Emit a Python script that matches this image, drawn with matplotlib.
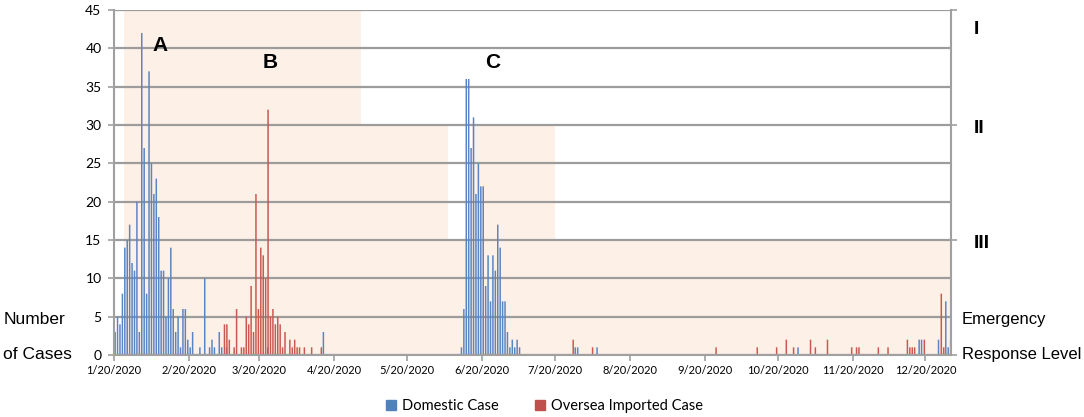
import matplotlib
matplotlib.use('Agg')
import matplotlib.pyplot as plt
from matplotlib.patches import Patch
from matplotlib.transforms import blended_transform_factory

# day offsets counted from 1/20/2020
domestic_days = [0, 1, 2, 3, 4, 5, 6, 7, 8, 9, 10, 11, 12, 13, 14, 15, 16, 17, 18, 19,
                 20, 21, 22, 23, 24, 25, 26, 27, 28, 29, 30, 31, 32, 35, 37, 39, 40, 41,
                 43, 44, 46, 63, 86,
                 143, 144, 145, 146, 147, 148, 149, 150, 151, 152, 153, 154, 155, 156,
                 157, 158, 159, 160, 161, 162, 163, 164, 165, 166, 167,
                 190, 191, 199, 282, 332, 333, 340, 343, 344, 345]
domestic_vals = [3, 5, 4, 8, 14, 15, 17, 12, 11, 20, 3, 42, 27, 8, 37, 25, 21, 23, 18, 11,
                 11, 5, 10, 14, 6, 3, 5, 1, 6, 6, 2, 1, 3, 1, 10, 1, 2, 1,
                 3, 1, 1, 1, 3,
                 1, 6, 36, 36, 27, 31, 21, 25, 22, 22, 9, 13, 7, 13,
                 11, 17, 14, 7, 7, 3, 1, 2, 1, 2, 1,
                 1, 1, 1, 1, 2, 2, 2, 7, 1, 2]

imported_days = [45, 46, 47, 49, 50, 52, 53, 54, 55, 56, 57, 58, 59, 60, 61, 62, 63, 64,
                 65, 66, 67, 68, 69, 70, 72, 73, 74, 75, 76, 78, 81, 85,
                 189, 197, 248, 265, 273, 277, 280, 287, 289, 294, 304, 306, 307,
                 315, 319, 327, 328, 329, 330, 334, 341, 342]
imported_vals = [4, 4, 2, 1, 6, 1, 1, 5, 4, 9, 3, 21, 6, 14, 13, 10, 32, 5,
                 6, 4, 5, 4, 1, 3, 2, 1, 2, 1, 1, 1, 1, 1,
                 2, 1, 1, 1, 1, 2, 1, 2, 1, 2, 1, 1, 1,
                 1, 1, 2, 1, 1, 1, 2, 8, 1]

# emergency response periods: start day, end day, level height
level_start = [4, 102, 138, 148, 182]
level_end = [102, 138, 148, 182, 346]
level_top = [45, 30, 15, 30, 15]

tick_days = [0, 31, 60, 91, 121, 152, 182, 213, 244, 274, 305, 335]
tick_labels = ['1/20/2020', '2/20/2020', '3/20/2020', '4/20/2020', '5/20/2020',
               '6/20/2020', '7/20/2020', '8/20/2020', '9/20/2020', '10/20/2020',
               '11/20/2020', '12/20/2020']

blue = '#4F81BD'
red = '#C0504D'
shade = '#FDF0E6'
gray = '#A0A0A0'

fig = plt.figure(figsize=(10.84, 4.17), dpi=100)
ax = fig.add_axes([0.1052, 0.1487, 0.7721, 0.8273])

widths = [e - s for s, e in zip(level_start, level_end)]
ax.bar(level_start, level_top, width=widths, align='edge', color=shade,
       linewidth=0, zorder=0)

ax.bar([d + 0.45 for d in domestic_days], domestic_vals, width=0.62, color='#5A85C3',
       linewidth=0, zorder=2, snap=False)
ax.bar([d + 0.6 for d in imported_days], imported_vals, width=0.62, color='#CA5850',
       linewidth=0, zorder=2, snap=False)

ax.set_xlim(0, 345.6)
ax.set_ylim(0, 45)
ax.set_yticks(range(0, 46, 5))
ax.set_xticks(tick_days)
ax.set_xticklabels(tick_labels, fontsize=8, family='Lato')
for lab in ax.get_yticklabels():
    lab.set_family('Lato')
ax.tick_params(axis='y', labelsize=10, direction='out', length=4, color=gray,
               width=1.2, pad=5)
ax.tick_params(axis='x', direction='out', length=4, color=gray, width=1.2, pad=3)

ax.set_axisbelow(True)
ax.grid(axis='y', color='#9C9C9C', linewidth=1.6)
for side in ['left', 'bottom']:
    ax.spines[side].set_color(gray)
    ax.spines[side].set_linewidth(1.5)
ax.spines['top'].set_visible(False)
ax.spines['right'].set_visible(False)

ax2 = ax.twinx()
ax2.set_ylim(0, 45)
ax2.set_yticks([0, 15, 30, 45])
ax2.set_yticklabels([])
ax2.tick_params(axis='y', direction='out', length=4, color=gray, width=1.2)
ax2.spines['right'].set_color(gray)
ax2.spines['right'].set_linewidth(1.5)
for side in ['left', 'top', 'bottom']:
    ax2.spines[side].set_visible(False)

# outbreak labels
for letter, xd, yv in [('A', 19, 40.4), ('B', 64.4, 38.2), ('C', 156.4, 38.2)]:
    ax.text(xd, yv, letter, fontsize=15, fontweight='bold', family='Liberation Sans',
            ha='center', va='center')

tr = blended_transform_factory(fig.transFigure, ax.transData)
for lvl, yv in [('I', 42.4), ('II', 29.6), ('III', 14.6)]:
    ax.text(0.898, yv, lvl, transform=tr, fontsize=14, fontweight='bold',
            family='Liberation Sans', ha='left', va='center', clip_on=False)
ax.text(0.887, 4.6, 'Emergency', transform=tr, fontsize=12,
        family='Liberation Sans', ha='left', va='center', clip_on=False)
ax.text(0.887, 0, 'Response Level', transform=tr, fontsize=12,
        family='Liberation Sans', ha='left', va='center', clip_on=False)
ax.text(0.003, 4.6, 'Number', transform=tr, fontsize=12.5,
        family='Liberation Sans', ha='left', va='center', clip_on=False)
ax.text(0.003, 0, 'of Cases', transform=tr, fontsize=12.5,
        family='Liberation Sans', ha='left', va='center', clip_on=False)

handles = [Patch(color=blue), Patch(color=red)]
fig.legend(handles, ['Domestic Case', 'Oversea Imported Case'], loc='center',
           bbox_to_anchor=(0.502, 0.026), ncol=2, frameon=False,
           prop={'family': 'Lato', 'size': 10.5}, handlelength=0.7,
           handleheight=0.7, handletextpad=0.4, columnspacing=2.5)

fig.savefig('out.png', dpi=100)
